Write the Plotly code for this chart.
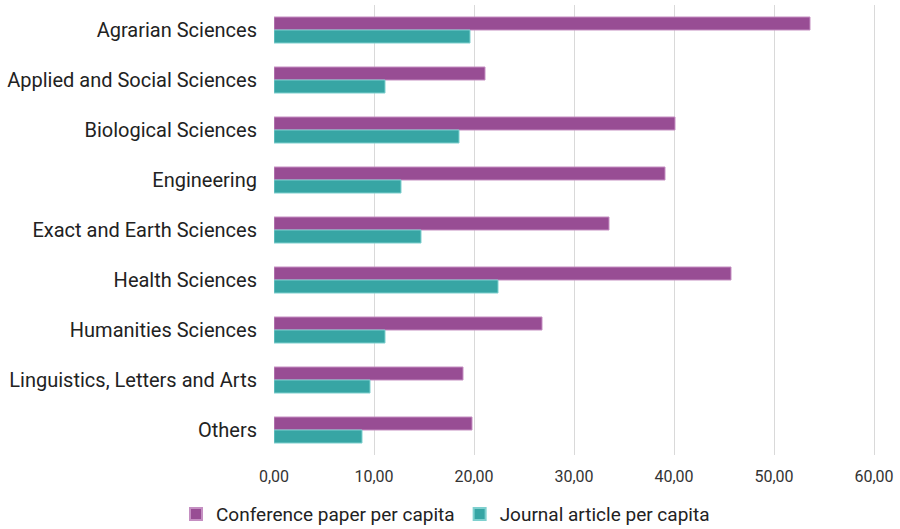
import plotly.graph_objects as go

categories = ["Agrarian Sciences", "Applied and Social Sciences", "Biological Sciences",
              "Engineering", "Exact and Earth Sciences", "Health Sciences",
              "Humanities Sciences", "Linguistics, Letters and Arts", "Others"]
conference = [53.6, 21.1, 40.1, 39.1, 33.5, 45.7, 26.8, 18.9, 19.8]
journal = [19.6, 11.1, 18.5, 12.7, 14.7, 22.4, 11.1, 9.6, 8.8]
tick_vals = [0, 10, 20, 30, 40, 50, 60]
tick_text = ["0,00", "10,00", "20,00", "30,00", "40,00", "50,00", "60,00"]

PURPLE = "#984D94"
TEAL = "#37A5A4"

fig = go.Figure()
fig.add_trace(go.Bar(y=categories, x=conference, orientation="h",
                     name="Conference paper per capita",
                     marker=dict(color=PURPLE, line=dict(color="#c58fc2", width=1))))
fig.add_trace(go.Bar(y=categories, x=journal, orientation="h",
                     name="Journal article per capita",
                     marker=dict(color=TEAL, line=dict(color="#7fd0cf", width=1))))

fig.update_layout(
    width=900, height=529,
    margin=dict(l=274, r=24, t=5, b=74),
    plot_bgcolor="white", paper_bgcolor="white",
    barmode="group", bargap=0.48, bargroupgap=0,
    font=dict(family="Roboto", color="#222222"),
    showlegend=True,
    legend=dict(orientation="h", xref="container", yref="container",
                x=0.495, xanchor="center", y=0.028, yanchor="middle",
                font=dict(size=19, color="#222222"), traceorder="normal",
                itemwidth=30, itemsizing="constant"),
)
fig.update_xaxes(range=[0, 60.2], tickvals=tick_vals, ticktext=tick_text,
                 showgrid=True, gridcolor="#d9d9d9", gridwidth=1,
                 zeroline=False, showline=False, ticks="",
                 ticklabelstandoff=10,
                 tickfont=dict(size=16, color="#333333"))
fig.update_yaxes(autorange="reversed", showgrid=False, ticks="", showline=False,
                 ticklabelstandoff=16, tickfont=dict(size=20, color="#222222"))

fig.write_html("out.html")
